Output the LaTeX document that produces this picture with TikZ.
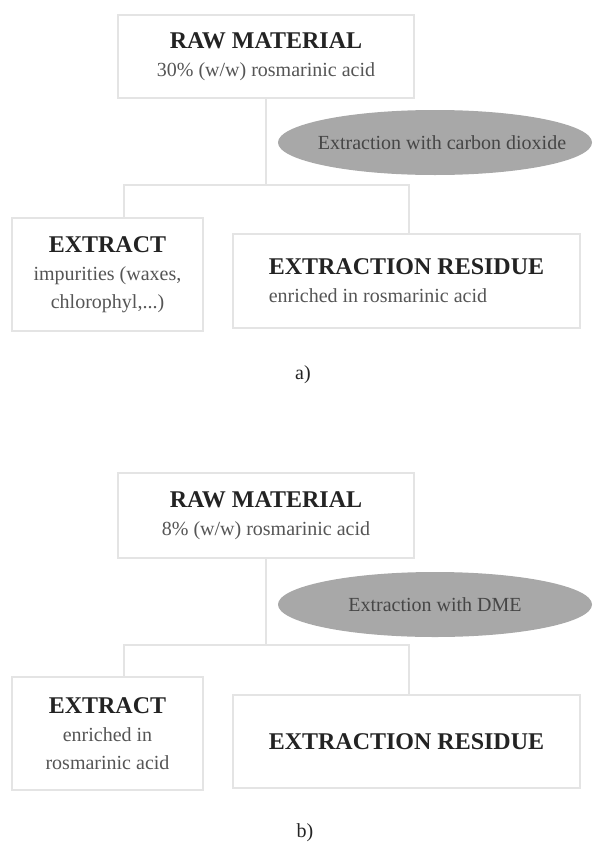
\documentclass[tikz,border=0pt]{standalone}
\usepackage{fontspec}
\setmainfont{Liberation Serif}
\usetikzlibrary{shapes.geometric}

\newcommand{\boxhead}[1]{{\fontsize{24}{28}\selectfont\bfseries\color{headcol}#1}}
\newcommand{\ovaltext}[1]{\makebox[200pt][c]{#1}}

\begin{document}
\begin{tikzpicture}[x=1pt, y=-1pt,
    box/.style={draw=boxline, line width=2.5pt, fill=white, inner sep=0pt,
        align=center, text=subcol, font=\fontsize{20}{28}\selectfont},
    oval/.style={ellipse, fill=ovalfill, inner sep=0pt, minimum width=314pt,
        minimum height=65pt, text=ovaltext, font=\fontsize{20}{24}\selectfont},
    link/.style={draw=boxline, line width=2.5pt},
    caption/.style={text=headcol, font=\fontsize{20}{24}\selectfont}]

    % Farben
    \definecolor{boxline}{RGB}{228, 228, 228}
    \definecolor{ovalfill}{RGB}{168, 168, 168}
    \definecolor{ovaltext}{RGB}{70, 70, 70}
    \definecolor{headcol}{RGB}{35, 35, 35}
    \definecolor{subcol}{RGB}{85, 85, 85}

    \useasboundingbox (0, 0) rectangle (592, 846);

    % a) Extraktion mit CO2
    \node[box, minimum width=296pt, minimum height=83pt] (rawA) at (266, 56.5)
        {\boxhead{RAW MATERIAL}\\30\% (w/w) rosmarinic acid};
    \node[oval] (extrA) at (435, 142.5) {\ovaltext{\hspace{14pt}Extraction with carbon dioxide}};
    \node[box, minimum width=191pt, minimum height=113pt] (extA) at (107.5, 274.5)
        {\boxhead{EXTRACT}\\impurities (waxes,\\chlorophyl,...)};
    \node[box, align=left, minimum width=347pt, minimum height=94pt] (resA) at (406.5, 281)
        {\boxhead{EXTRACTION RESIDUE}\\enriched in rosmarinic acid};
    \node[caption] (capA) at (303, 375) {a)};

    \coordinate (leftA) at (124, 185);
    \coordinate (splitA) at (266, 185);
    \coordinate (rightA) at (409, 185);
    \draw[link] (rawA.south) -- (splitA);
    \draw[link] (extA.north -| leftA) -- (leftA) -- (rightA) -- (resA.north -| rightA);

    % b) Extraktion mit DME
    \node[box, minimum width=296pt, minimum height=85pt] (rawB) at (266, 515.5)
        {\boxhead{RAW MATERIAL}\\8\% (w/w) rosmarinic acid};
    \node[oval] (extrB) at (435, 604.5) {\ovaltext{Extraction with DME}};
    \node[box, minimum width=191pt, minimum height=113pt] (extB) at (107.5, 733.5)
        {\boxhead{EXTRACT}\\enriched in\\rosmarinic acid};
    \node[box, minimum width=347pt, minimum height=93pt] (resB) at (406.5, 741.5)
        {\boxhead{EXTRACTION RESIDUE}};
    \node[caption] (capB) at (305, 833) {b)};

    \coordinate (leftB) at (124, 645);
    \coordinate (splitB) at (266, 645);
    \coordinate (rightB) at (409, 645);
    \draw[link] (rawB.south) -- (splitB);
    \draw[link] (extB.north -| leftB) -- (leftB) -- (rightB) -- (resB.north -| rightB);
\end{tikzpicture}
\end{document}
